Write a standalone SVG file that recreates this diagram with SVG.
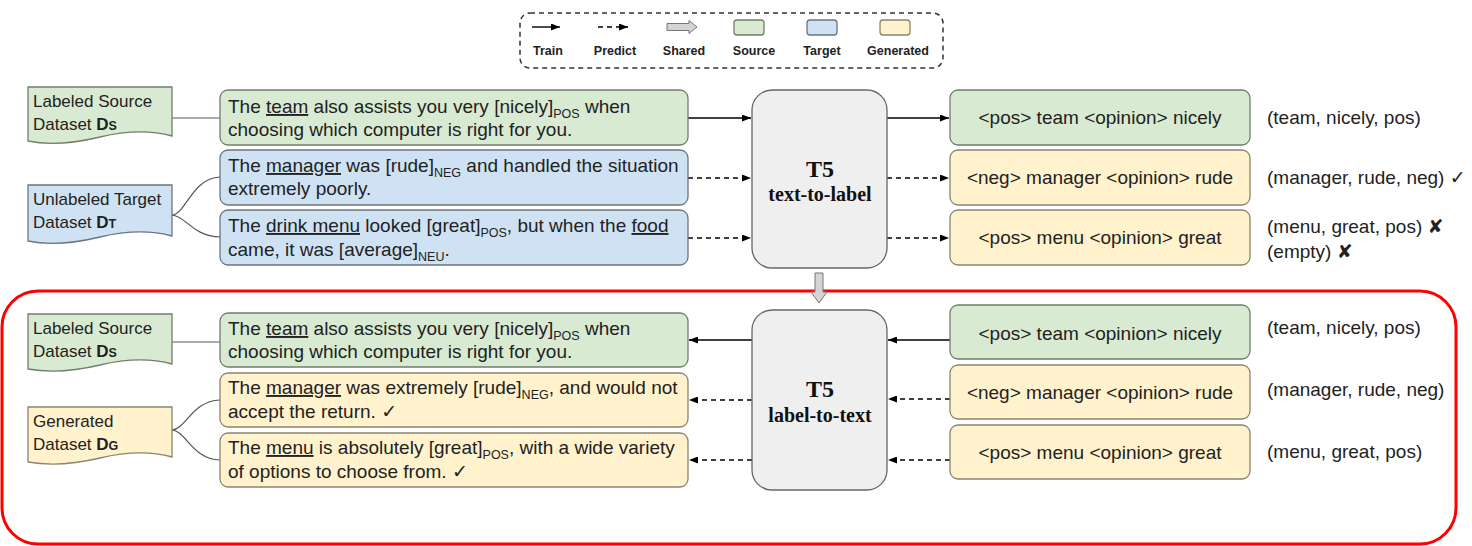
<svg xmlns="http://www.w3.org/2000/svg" width="1472" height="546" viewBox="0 0 1472 546">
  <defs>
    <marker id="ah" markerWidth="9" markerHeight="7" refX="9" refY="3.5" orient="auto" markerUnits="userSpaceOnUse">
      <path d="M0,0 L9,3.5 L0,7 Z" fill="#000"/>
    </marker>
    <style>
      .src { fill: #d9ead3; stroke: #6f7f6c; stroke-width: 1.3; }
      .tgt { fill: #cfe2f3; stroke: #6b7580; stroke-width: 1.3; }
      .gen { fill: #fff2cc; stroke: #8a8470; stroke-width: 1.3; }
      .t5 { fill: #efefef; stroke: #666; stroke-width: 1.3; }
      .txt { font-family: "Liberation Sans", Arial, sans-serif; font-size: 19px; fill: #222; }
      .dtxt { font-family: "Liberation Sans", Arial, sans-serif; font-size: 17px; fill: #222; }
      .lg { font-family: "Liberation Sans", Arial, sans-serif; font-size: 12.5px; font-weight: bold; fill: #222; text-anchor: middle; }
      .mid { text-anchor: middle; }
      .sub { font-size: 12.5px; }
      .u { text-decoration: underline; }
      .sym { font-family: "DejaVu Sans", sans-serif; }
      .t5a { font-family: "Liberation Serif", "Times New Roman", serif; font-weight: bold; font-size: 24px; fill: #111; text-anchor: middle; }
      .t5b { font-family: "Liberation Serif", "Times New Roman", serif; font-weight: bold; font-size: 20px; fill: #111; text-anchor: middle; }
      .solid { stroke: #000; stroke-width: 1.4; fill: none; }
      .dash { stroke: #000; stroke-width: 1.4; fill: none; stroke-dasharray: 5 4; }
      .link { stroke: #555; stroke-width: 1.2; fill: none; }
      .blk { fill: #d4d4d4; stroke: #777; stroke-width: 1; }
    </style>
  </defs>
  <rect width="1472" height="546" fill="#fff"/>

  <!-- legend -->
  <g id="legend">
    <rect x="520" y="13" width="423" height="55" rx="10" fill="none" stroke="#333" stroke-width="1.5" stroke-dasharray="5 4"/>
    <line x1="532" y1="27" x2="560" y2="27" class="solid" marker-end="url(#ah)"/>
    <line x1="598" y1="27" x2="628" y2="27" class="dash" marker-end="url(#ah)"/>
    <polygon points="667,23.5 689,23.5 689,20.5 697,27 689,33.5 689,30.5 667,30.5" class="blk"/>
    <rect x="734" y="20" width="30" height="15" rx="3" class="src"/>
    <rect x="807" y="20" width="30" height="15" rx="3" class="tgt"/>
    <rect x="880" y="20" width="30" height="15" rx="3" class="gen"/>
    <text x="548" y="55" class="lg">Train</text>
    <text x="615" y="55" class="lg">Predict</text>
    <text x="684" y="55" class="lg">Shared</text>
    <text x="754" y="55" class="lg">Source</text>
    <text x="822" y="55" class="lg">Target</text>
    <text x="898" y="55" class="lg">Generated</text>
  </g>

  <!-- stage frame -->
  <rect id="stage2-frame" x="2" y="291" width="1454" height="253" rx="36" fill="none" stroke="#ff0000" stroke-width="3"/>

  <!-- connectors -->
  <g id="connectors">
    <!-- dataset links, upper stage -->
    <line x1="172" y1="118" x2="220" y2="118" class="link"/>
    <path d="M172,215 C186,214 192,178 220,177" class="link"/>
    <path d="M172,215 C186,216 192,236 220,237" class="link"/>
    <!-- dataset links, lower stage -->
    <line x1="172" y1="342" x2="220" y2="342" class="link"/>
    <path d="M172,430 C186,429 192,401 220,400" class="link"/>
    <path d="M172,430 C186,431 192,459 220,460" class="link"/>

    <!-- sentences -> T5 text-to-label -->
    <line x1="688" y1="118" x2="751" y2="118" class="solid" marker-end="url(#ah)"/>
    <line x1="688" y1="178" x2="751" y2="178" class="dash" marker-end="url(#ah)"/>
    <line x1="688" y1="238" x2="751" y2="238" class="dash" marker-end="url(#ah)"/>
    <!-- T5 text-to-label -> labels -->
    <line x1="887" y1="118" x2="949" y2="118" class="solid" marker-end="url(#ah)"/>
    <line x1="887" y1="178" x2="949" y2="178" class="dash" marker-end="url(#ah)"/>
    <line x1="887" y1="238" x2="949" y2="238" class="dash" marker-end="url(#ah)"/>

    <!-- labels -> T5 label-to-text -->
    <line x1="950" y1="340" x2="888" y2="340" class="solid" marker-end="url(#ah)"/>
    <line x1="950" y1="399" x2="888" y2="399" class="dash" marker-end="url(#ah)"/>
    <line x1="950" y1="460" x2="888" y2="460" class="dash" marker-end="url(#ah)"/>
    <!-- T5 label-to-text -> sentences -->
    <line x1="752" y1="340" x2="689" y2="340" class="solid" marker-end="url(#ah)"/>
    <line x1="752" y1="400" x2="689" y2="400" class="dash" marker-end="url(#ah)"/>
    <line x1="752" y1="460" x2="689" y2="460" class="dash" marker-end="url(#ah)"/>

    <!-- shared weights -->
    <polygon points="815,273 823,273 823,292 827,292 819,303 811,292 815,292" class="blk"/>
  </g>

  <!-- upper stage: datasets -->
  <g id="ds-source-1">
    <path d="M28,87 H172 V136 C150,130 125,131 100,137 C75,143 50,146 28,141 Z" class="src"/>
    <text x="33" y="107" class="dtxt">Labeled Source</text>
    <text x="33" y="130" class="dtxt">Dataset <tspan font-weight="bold">D<tspan font-size="12.5">S</tspan></tspan></text>
  </g>
  <g id="ds-target">
    <path d="M28,185 H172 V236 C150,230 125,231 100,237 C75,243 50,246 28,241 Z" class="tgt"/>
    <text x="33" y="205" class="dtxt">Unlabeled Target</text>
    <text x="33" y="228" class="dtxt">Dataset <tspan font-weight="bold">D<tspan font-size="12.5">T</tspan></tspan></text>
  </g>

  <!-- upper stage: sentences -->
  <g id="sent-1">
    <rect x="220" y="90" width="468" height="55" rx="8" class="src"/>
    <text x="228" y="113" class="txt">The <tspan class="u">team</tspan> also assists you very [nicely]<tspan class="sub" dy="5">POS</tspan><tspan dy="-5"> when</tspan></text>
    <text x="228" y="136" class="txt">choosing which computer is right for you.</text>
  </g>
  <g id="sent-2">
    <rect x="220" y="150" width="468" height="55" rx="8" class="tgt"/>
    <text x="228" y="172" class="txt">The <tspan class="u">manager</tspan> was [rude]<tspan class="sub" dy="5">NEG</tspan><tspan dy="-5"> and handled the situation</tspan></text>
    <text x="228" y="195" class="txt">extremely poorly.</text>
  </g>
  <g id="sent-3">
    <rect x="220" y="210" width="468" height="55" rx="8" class="tgt"/>
    <text x="228" y="232" class="txt">The <tspan class="u">drink menu</tspan> looked [great]<tspan class="sub" dy="5">POS</tspan><tspan dy="-5">, but when the </tspan><tspan class="u">food</tspan></text>
    <text x="228" y="256" class="txt">came, it was [average]<tspan class="sub" dy="5">NEU</tspan><tspan dy="-5">.</tspan></text>
  </g>

  <!-- upper stage: model -->
  <g id="t5-text-to-label">
    <rect x="752" y="90" width="135" height="178" rx="20" class="t5"/>
    <text x="820" y="177" class="t5a">T5</text>
    <text x="820" y="201" class="t5b">text-to-label</text>
  </g>

  <!-- upper stage: labels -->
  <g id="label-1">
    <rect x="950" y="90" width="300" height="55" rx="8" class="src"/>
    <text x="1100" y="124" class="txt mid">&lt;pos&gt; team &lt;opinion&gt; nicely</text>
  </g>
  <g id="label-2">
    <rect x="950" y="150" width="300" height="55" rx="8" class="gen"/>
    <text x="1100" y="184" class="txt mid">&lt;neg&gt; manager &lt;opinion&gt; rude</text>
  </g>
  <g id="label-3">
    <rect x="950" y="210" width="300" height="55" rx="8" class="gen"/>
    <text x="1100" y="244" class="txt mid">&lt;pos&gt; menu &lt;opinion&gt; great</text>
  </g>

  <!-- upper stage: triplets -->
  <g id="triplets-1">
    <text x="1267" y="124" class="txt">(team, nicely, pos)</text>
    <text x="1267" y="184" class="txt">(manager, rude, neg) <tspan class="sym">✓</tspan></text>
    <text x="1267" y="233" class="txt">(menu, great, pos) <tspan class="sym">✘</tspan></text>
    <text x="1267" y="258" class="txt">(empty) <tspan class="sym">✘</tspan></text>
  </g>

  <!-- lower stage: datasets -->
  <g id="ds-source-2">
    <path d="M28,314 H172 V364 C150,358 125,359 100,365 C75,371 50,373 28,369 Z" class="src"/>
    <text x="33" y="334" class="dtxt">Labeled Source</text>
    <text x="33" y="357" class="dtxt">Dataset <tspan font-weight="bold">D<tspan font-size="12.5">S</tspan></tspan></text>
  </g>
  <g id="ds-generated">
    <path d="M28,407 H172 V457 C150,451 125,452 100,458 C75,464 50,466 28,462 Z" class="gen"/>
    <text x="33" y="427" class="dtxt">Generated</text>
    <text x="33" y="450" class="dtxt">Dataset <tspan font-weight="bold">D<tspan font-size="12.5">G</tspan></tspan></text>
  </g>

  <!-- lower stage: sentences -->
  <g id="gen-sent-1">
    <rect x="220" y="313" width="468" height="54" rx="8" class="src"/>
    <text x="228" y="335" class="txt">The <tspan class="u">team</tspan> also assists you very [nicely]<tspan class="sub" dy="5">POS</tspan><tspan dy="-5"> when</tspan></text>
    <text x="228" y="358" class="txt">choosing which computer is right for you.</text>
  </g>
  <g id="gen-sent-2">
    <rect x="220" y="373" width="468" height="54" rx="8" class="gen"/>
    <text x="228" y="394" class="txt">The <tspan class="u">manager</tspan> was extremely [rude]<tspan class="sub" dy="5">NEG</tspan><tspan dy="-5">, and would not</tspan></text>
    <text x="228" y="418" class="txt">accept the return. <tspan class="sym">✓</tspan></text>
  </g>
  <g id="gen-sent-3">
    <rect x="220" y="433" width="468" height="54" rx="8" class="gen"/>
    <text x="228" y="454" class="txt">The <tspan class="u">menu</tspan> is absolutely [great]<tspan class="sub" dy="5">POS</tspan><tspan dy="-5">, with a wide variety</tspan></text>
    <text x="228" y="478" class="txt">of options to choose from. <tspan class="sym">✓</tspan></text>
  </g>

  <!-- lower stage: model -->
  <g id="t5-label-to-text">
    <rect x="752" y="310" width="135" height="180" rx="20" class="t5"/>
    <text x="820" y="397" class="t5a">T5</text>
    <text x="820" y="422" class="t5b">label-to-text</text>
  </g>

  <!-- lower stage: labels -->
  <g id="in-label-1">
    <rect x="950" y="305" width="300" height="54" rx="8" class="src"/>
    <text x="1100" y="340" class="txt mid">&lt;pos&gt; team &lt;opinion&gt; nicely</text>
  </g>
  <g id="in-label-2">
    <rect x="950" y="365" width="300" height="54" rx="8" class="gen"/>
    <text x="1100" y="399" class="txt mid">&lt;neg&gt; manager &lt;opinion&gt; rude</text>
  </g>
  <g id="in-label-3">
    <rect x="950" y="425" width="300" height="54" rx="8" class="gen"/>
    <text x="1100" y="459" class="txt mid">&lt;pos&gt; menu &lt;opinion&gt; great</text>
  </g>

  <!-- lower stage: triplets -->
  <g id="triplets-2">
    <text x="1267" y="334" class="txt">(team, nicely, pos)</text>
    <text x="1267" y="396" class="txt">(manager, rude, neg)</text>
    <text x="1267" y="458" class="txt">(menu, great, pos)</text>
  </g>
</svg>
